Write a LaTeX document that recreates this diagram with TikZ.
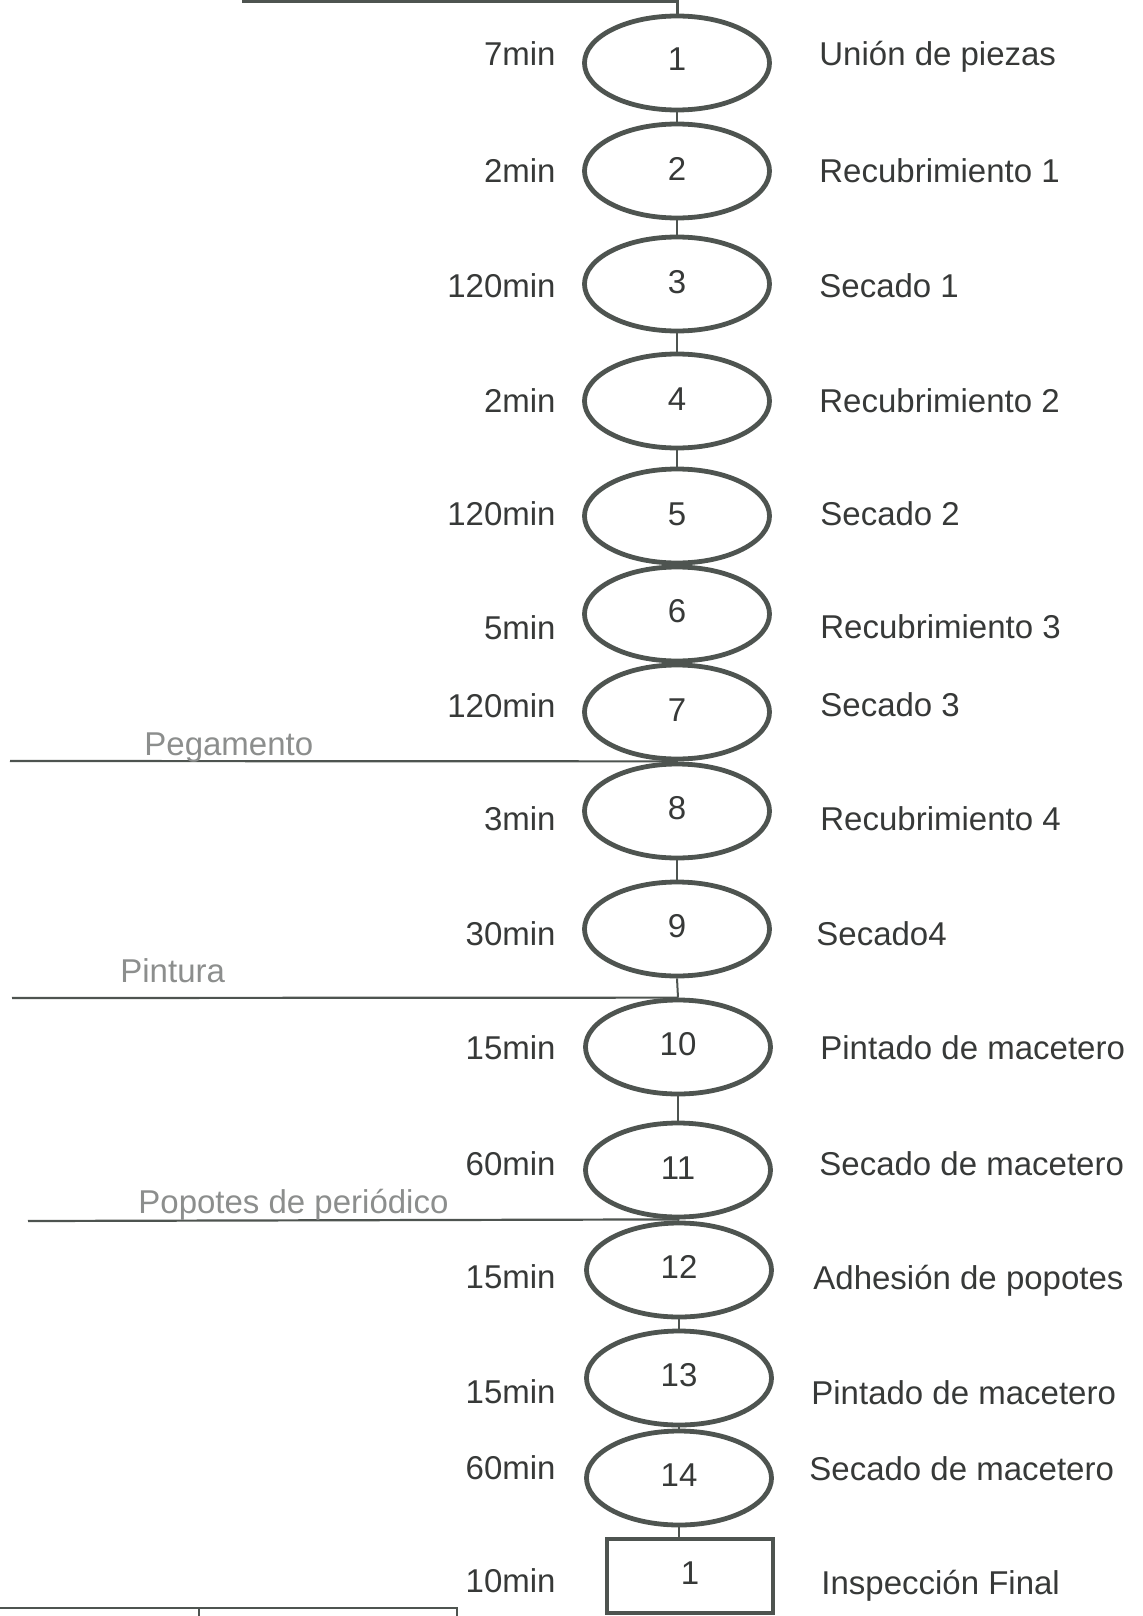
\documentclass[tikz,border=0pt]{standalone}
\usepackage{fontspec}
\setmainfont{Liberation Sans}
\usetikzlibrary{shapes.geometric}
\definecolor{ink}{RGB}{55,57,56}
\definecolor{edgec}{RGB}{78,84,80}
\definecolor{pale}{RGB}{140,142,141}
\begin{document}
\begin{tikzpicture}[x=0.5pt,y=-0.5pt,
  txt/.style={font=\fontsize{16.5}{19}\selectfont, text=ink, inner sep=0pt},
  op/.style={ellipse, draw=edgec, line width=2.4pt, minimum width=92.5pt, minimum height=47pt, inner sep=0pt, txt},
  insp/.style={rectangle, draw=edgec, line width=2.4pt, minimum width=83pt, minimum height=37pt, inner sep=0pt, txt},
  tlab/.style={txt, anchor=base east},
  dlab/.style={txt, anchor=base west},
  feedlab/.style={txt, text=pale, anchor=base west},
  link/.style={draw=edgec, line width=1pt},
  feedline/.style={draw=edgec, line width=1.1pt}
]
\useasboundingbox (0,0) rectangle (1143,1616);

% operations
\node[op] (e1)  at (677,63)   {\raisebox{4pt}{1}};
\node[op] (e2)  at (677,171)  {\raisebox{2pt}{2}};
\node[op] (e3)  at (677,284)  {\raisebox{2pt}{3}};
\node[op] (e4)  at (677,401)  {\raisebox{2pt}{4}};
\node[op] (e5)  at (677,516)  {\raisebox{2pt}{5}};
\node[op] (e6)  at (677,614)  {\raisebox{3pt}{6}};
\node[op] (e7)  at (677,712)  {\raisebox{2pt}{7}};
\node[op] (e8)  at (677,811)  {\raisebox{3pt}{8}};
\node[op] (e9)  at (677,929)  {\raisebox{3pt}{9}};
\node[op] (e10) at (678,1047) {\raisebox{3pt}{10}};
\node[op] (e11) at (678,1170) {\raisebox{2pt}{11}};
\node[op] (e12) at (679,1270) {\raisebox{3pt}{12}};
\node[op] (e13) at (679,1378) {\raisebox{3pt}{13}};
\node[op] (e14) at (679,1478) {\raisebox{2.5pt}{14}};
\node[insp] (ins) at (690,1576) {\raisebox{3pt}{1}};

% connectors
\foreach \a/\b in {e1/e2,e2/e3,e3/e4,e4/e5,e5/e6,e6/e7,e7/e8,e8/e9,e9/e10,e10/e11,e11/e12,e12/e13,e13/e14}
  \draw[link] (\a.south) -- (\b.north);
\draw[link] (e14.south) -- (e14.south |- ins.north);

% top incoming line
\coordinate (t0) at (242,2);
\draw[draw=edgec, line width=1.5pt] (t0) -- (t0 -| e1.north) -- (e1.north);

% material feeds
\coordinate (f1) at (10,761);
\coordinate (f2) at (12,998);
\coordinate (f3) at (28,1221);
\draw[feedline] (f1) -- (e7.south);
\draw[feedline] (f2) -- (e10.north);
\draw[feedline] (f3) -- (e11.south);
\node[feedlab] (l1) at (144,755) {Pegamento};
\node[feedlab] (l2) at (120,982) {Pintura};
\node[feedlab] (l3) at (138,1213) {Popotes de periódico};

% times
\foreach \t/\y [count=\i] in {7min/54,2min/170,120min/285,2min/400,120min/513,5min/627,120min/705,3min/818,30min/933,15min/1047,60min/1163,15min/1276,15min/1391,60min/1467,10min/1580}
  \node[tlab] (t\i) at (556,\y+12) {\t};

% descriptions
\foreach \d/\x/\y [count=\i] in {Unión de piezas/819/54,Recubrimiento 1/819/170,Secado 1/819/285,Recubrimiento 2/819/400,Secado 2/820/513,Recubrimiento 3/820/626,Secado 3/820/704,Recubrimiento 4/820/818,Secado4/816/933,Pintado de macetero/820/1047,Secado de macetero/819/1163,Adhesión de popotes/813/1277,Pintado de macetero/811/1392,Secado de macetero/809/1468,Inspección Final/821/1582}
  \node[dlab] (d\i) at (\x,\y+12) {\d};

% partial table at bottom left
\coordinate (b0) at (0,1608);
\coordinate (b1) at (457,1608);
\coordinate (b2) at (199,1608);
\draw[draw=edgec, line width=1pt] (b0) -- (b1) -- (457,1616);
\draw[draw=edgec, line width=1pt] (b2) -- (199,1616);
\end{tikzpicture}
\end{document}
